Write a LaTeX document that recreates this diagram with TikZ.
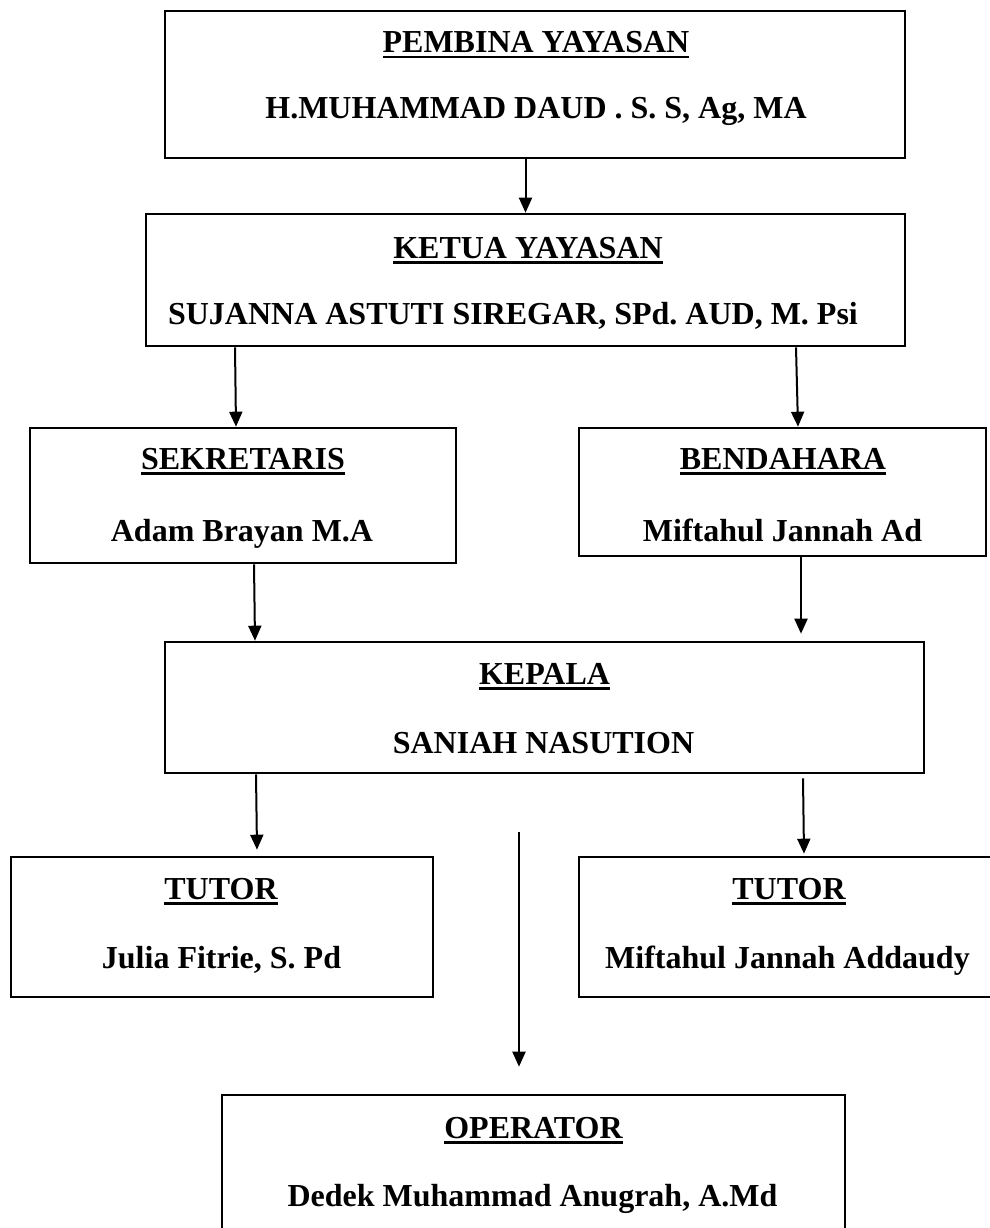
\documentclass[tikz,border=0pt]{standalone}
\usepackage{fontspec}
\setmainfont{Liberation Serif}
\usetikzlibrary{arrows.meta}
\frenchspacing
\newcommand{\garis}[1]{\setbox0=\hbox{#1}\rlap{\rule[-5.5pt]{\wd0}{2.6pt}}\box0}
\tikzset{
  kotak/.style={draw, line width=2.6pt, inner sep=0pt},
  teks/.style={anchor=base, inner sep=0pt, font=\fontsize{32}{38}\selectfont\bfseries},
  panah/.style={line width=2pt, -{Triangle[length=15pt, width=13pt]}}
}
\begin{document}
\begin{tikzpicture}[x=1pt, y=-1pt]
    \useasboundingbox (0,0) rectangle (989,1228);

    % Pembina dan Ketua
    \node[kotak, minimum width=740, minimum height=147] (pembina) at (535,84.5) {};
    \node[teks] (pembinaJ) at (536,53) {\garis{PEMBINA YAYASAN}};
    \node[teks] (pembinaN) at (536,119) {H.MUHAMMAD DAUD . S. S, Ag, MA};

    \node[kotak, minimum width=759, minimum height=132] (ketua) at (525.5,280) {};
    \node[teks] (ketuaJ) at (528,258) {\garis{KETUA YAYASAN}};
    \node[teks] (ketuaN) at (513,324) {SUJANNA ASTUTI SIREGAR, SPd. AUD, M. Psi};

    % Sekretaris dan Bendahara
    \node[kotak, minimum width=426, minimum height=135] (sekretaris) at (243,495.5) {};
    \node[teks] (sekretarisJ) at (243,469) {\garis{SEKRETARIS}};
    \node[teks] (sekretarisN) at (242,541) {Adam Brayan M.A};

    \node[kotak, minimum width=407, minimum height=128] (bendahara) at (782.5,492) {};
    \node[teks] (bendaharaJ) at (783,469) {\garis{BENDAHARA}};
    \node[teks] (bendaharaN) at (782.5,541) {Miftahul Jannah Ad};

    % Kepala
    \node[kotak, minimum width=759, minimum height=131] (kepala) at (544.5,707.5) {};
    \node[teks] (kepalaJ) at (544.5,684) {\garis{KEPALA}};
    \node[teks] (kepalaN) at (543.5,753) {SANIAH NASUTION};

    % Tutor
    \node[kotak, minimum width=422, minimum height=140] (tutorkiri) at (222,927) {};
    \node[teks] (tutorkiriJ) at (221,899) {\garis{TUTOR}};
    \node[teks] (tutorkiriN) at (221.5,968) {Julia Fitrie, S. Pd};

    \node[kotak, minimum width=420, minimum height=140] (tutorkanan) at (789,927) {};
    \node[teks] (tutorkananJ) at (789,899) {\garis{TUTOR}};
    \node[teks] (tutorkananN) at (787.5,968) {Miftahul Jannah Addaudy};

    % Operator
    \node[kotak, minimum width=623, minimum height=135] (operator) at (533.5,1162.5) {};
    \node[teks] (operatorJ) at (533.5,1138) {\garis{OPERATOR}};
    \node[teks] (operatorN) at (532.5,1206) {Dedek Muhammad Anugrah, A.Md};

    % Garis komando
    \draw[panah] (pembina.south -| ketua.north) -- (ketua.north);
    \draw[panah] ([xshift=-290.5pt]ketua.south) -- ([xshift=-7pt]sekretaris.north);
    \draw[panah] ([xshift=270.5pt]ketua.south) -- ([xshift=15.5pt]bendahara.north);
    \draw[panah] ([xshift=11pt]sekretaris.south) -- ([xshift=-289.5pt]kepala.north);
    \draw[panah] ([xshift=18.5pt]bendahara.south) -- ([xshift=256.5pt, yshift=7pt]kepala.north);
    \draw[panah] ([xshift=-288.5pt]kepala.south) -- ([xshift=35pt, yshift=6pt]tutorkiri.north);
    \draw[panah] ([xshift=258.5pt, yshift=-4pt]kepala.south) -- ([xshift=15pt, yshift=2pt]tutorkanan.north);
    \draw[panah] ([xshift=-25.5pt, yshift=-58pt]kepala.south) -- ([xshift=-14.5pt, yshift=27pt]operator.north);
\end{tikzpicture}
\end{document}
